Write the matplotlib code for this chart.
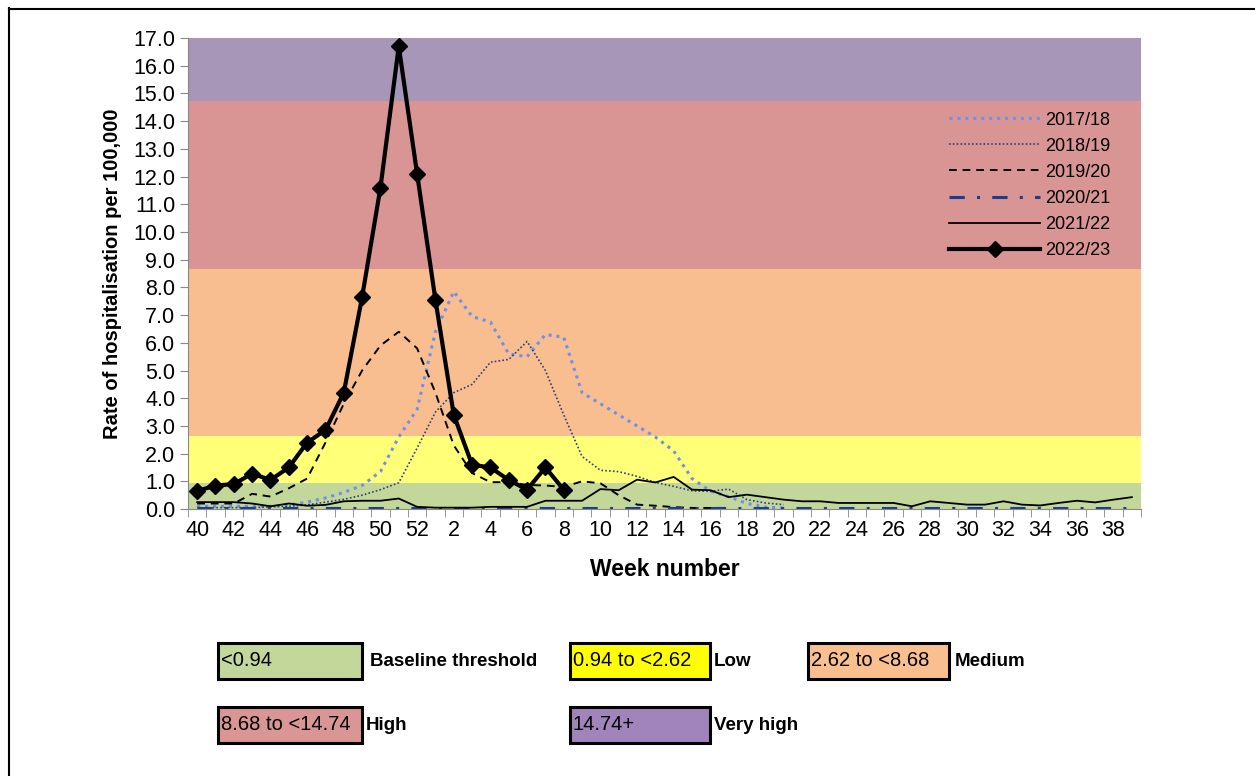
import numpy as np
import matplotlib.pyplot as plt
from matplotlib.patches import Rectangle
from matplotlib.lines import Line2D

plt.rcParams['font.family'] = ['Liberation Sans', 'DejaVu Sans']

weeks = list(range(40, 53)) + list(range(1, 40))
tick_labels = [str(w) if w % 2 == 0 else '' for w in weeks]

s2017 = [0.1, 0.1, 0.1, 0.1, 0.1, 0.15, 0.25, 0.4, 0.6, 0.85, 1.35, 2.6, 3.6,
         6.4, 7.85, 6.95, 6.75, 5.6, 5.5, 6.3, 6.2, 4.2, 3.8, 3.4, 3.0, 2.6, 2.1,
         1.1, 0.65, 0.45, 0.2, 0.07, 0.04]
s2018 = [0.05, 0.05, 0.05, 0.05, 0.08, 0.1, 0.15, 0.25, 0.35, 0.5, 0.7, 0.95, 2.2,
         3.5, 4.2, 4.5, 5.3, 5.4, 6.05, 5.0, 3.4, 1.9, 1.4, 1.35, 1.18, 0.96, 0.82,
         0.66, 0.64, 0.72, 0.34, 0.22, 0.16]
s2019 = [0.2, 0.2, 0.2, 0.55, 0.45, 0.75, 1.1, 2.4, 3.8, 5.0, 5.9, 6.4, 5.8,
         4.2, 2.3, 1.3, 0.97, 0.97, 0.87, 0.85, 0.8, 1.0, 0.93, 0.5, 0.16, 0.12, 0.07,
         0.04, 0.04, 0.04]
s2020 = [0.03] * 52
s2021 = [0.25, 0.25, 0.25, 0.2, 0.1, 0.2, 0.12, 0.15, 0.28, 0.3, 0.3, 0.38, 0.08,
         0.05, 0.05, 0.05, 0.08, 0.08, 0.08, 0.3, 0.3, 0.3, 0.72, 0.68, 1.06, 0.96, 1.16,
         0.7, 0.68, 0.43, 0.52, 0.43, 0.34, 0.28, 0.28, 0.22, 0.22, 0.22, 0.22, 0.1,
         0.28, 0.22, 0.16, 0.16, 0.28, 0.16, 0.13, 0.22, 0.3, 0.24, 0.34, 0.43]
s2022 = [0.65, 0.85, 0.9, 1.28, 1.05, 1.5, 2.4, 2.85, 4.2, 7.65, 11.6, 16.7, 12.1,
         7.55, 3.4, 1.6, 1.5, 1.05, 0.7, 1.5, 0.7]

band_edges = [0, 0.94, 2.62, 8.68, 14.74, 17]
band_colors = ['#c4d79b', '#ffff78', '#f8be8f', '#d99594', '#a796b7']
key_colors = ['#c4d79b', '#ffff00', '#fabf8f', '#da9694', '#a184bb']
key_text = ['<0.94', '0.94 to <2.62', '2.62 to <8.68', '8.68 to <14.74', '14.74+']
key_names = ['Baseline threshold', 'Low', 'Medium', 'High', 'Very high']

fig = plt.figure(figsize=(12.55, 7.76), dpi=100)
ax = fig.add_axes([0.1498, 0.344, 0.7594, 0.607])

for i in range(5):
    ax.axhspan(band_edges[i], band_edges[i + 1], color=band_colors[i], lw=0, zorder=0)

x = np.arange(52)
ax.plot(x[:len(s2017)], s2017, color='#6f8ff0', ls=(0, (1, 1.6)), lw=2.2, label='2017/18')
ax.plot(x[:len(s2018)], s2018, color='#2f3f78', ls=(0, (1, 1.3)), lw=1.2, label='2018/19')
ax.plot(x[:len(s2019)], s2019, color='black', ls=(0, (4, 3)), lw=1.4, label='2019/20')
ax.plot(x, s2020, color='#1f3c88', ls=(0, (5, 4, 1, 4)), lw=2.2, label='2020/21')
ax.plot(x, s2021, color='black', lw=1.3, label='2021/22')
ax.plot(x[:len(s2022)], s2022, color='black', lw=3, marker='D', ms=8, label='2022/23')

ax.set_xlim(-0.5, 51.5)
ax.set_ylim(0, 17)
ax.set_yticks(np.arange(0, 18, 1))
ax.set_yticklabels([f'{v:.1f}' for v in range(18)], fontsize=15.5)
ax.set_xticks(x)
ax.set_xticklabels(tick_labels, fontsize=15.5)
ax.set_xticks(np.arange(-0.5, 52, 1), minor=True)
ax.tick_params(axis='x', which='major', length=0, pad=8)
ax.tick_params(axis='x', which='minor', length=6, color='#888888')
ax.tick_params(axis='y', length=6, color='#888888', pad=3)
for side in ['top', 'right']:
    ax.spines[side].set_visible(False)
for side in ['left', 'bottom']:
    ax.spines[side].set_color('#888888')

ax.set_xlabel('Week number', fontsize=16.5, fontweight='bold', labelpad=12)
ax.set_ylabel('Rate of hospitalisation per 100,000', fontsize=14.5, fontweight='bold', labelpad=8)

leg = ax.legend(loc='upper right', bbox_to_anchor=(0.985, 0.878), frameon=False,
                fontsize=13, handlelength=5.0, labelspacing=0.5, handletextpad=0.3)

# key boxes under the chart
key_pos = [(218, 643), (570, 643), (808, 643), (218, 707), (570, 707)]
key_w = [144, 140, 141, 144, 140]
name_x = [370, 714, 955, 366, 714]
W, H = 1255, 776
for i in range(5):
    bx, by = key_pos[i]
    fig.patches.append(Rectangle((bx / W, 1 - (by + 36) / H), key_w[i] / W, 36 / H,
                                 transform=fig.transFigure, facecolor=key_colors[i],
                                 edgecolor='black', lw=2.2))
    fig.text((bx + 3) / W, 1 - (by + 18) / H, key_text[i], fontsize=14.5, va='center')
    fig.text(name_x[i] / W, 1 - (by + 18) / H, key_names[i], fontsize=13.5,
             fontweight='bold', va='center')

# page frame
fig.add_artist(Line2D([9 / W, 9 / W], [0, 1 - 8 / H], transform=fig.transFigure, color='black', lw=1.5))
fig.add_artist(Line2D([9 / W, 1], [1 - 9 / H, 1 - 9 / H], transform=fig.transFigure, color='black', lw=1.5))

fig.savefig('out.png', dpi=100)
